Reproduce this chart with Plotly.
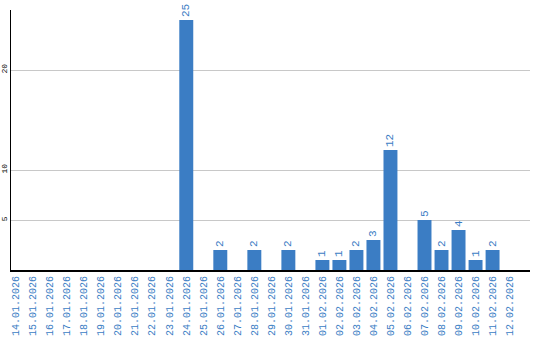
import plotly.graph_objects as go

dates = ["14.01.2026","15.01.2026","16.01.2026","17.01.2026","18.01.2026","19.01.2026",
         "20.01.2026","21.01.2026","22.01.2026","23.01.2026","24.01.2026","25.01.2026",
         "26.01.2026","27.01.2026","28.01.2026","29.01.2026","30.01.2026","31.01.2026",
         "01.02.2026","02.02.2026","03.02.2026","04.02.2026","05.02.2026","06.02.2026",
         "07.02.2026","08.02.2026","09.02.2026","10.02.2026","11.02.2026","12.02.2026"]
counts = [0,0,0,0,0,0,0,0,0,0,25,0,2,0,2,0,2,0,1,1,2,3,12,0,5,2,4,1,2,0]
y_ticks = [5, 10, 20]

blue = "#3b7dc4"
labels = [str(v) if v > 0 else "" for v in counts]

fig = go.Figure(go.Bar(
    x=dates, y=counts, text=labels, textposition="outside", textangle=-90,
    textfont=dict(family="Liberation Mono", size=11, color=blue),
    marker=dict(color=blue, line=dict(width=0)), width=0.82, cliponaxis=False,
))
fig.update_layout(
    width=540, height=340, margin=dict(l=11, r=10, t=10, b=70),
    plot_bgcolor="white", paper_bgcolor="white", showlegend=False,
    bargap=0.18,
)
fig.update_xaxes(type="category", range=[-0.3, 30.2], tickangle=-90, automargin=False,
                 tickfont=dict(family="Liberation Mono", size=10, color=blue),
                 showline=True, linecolor="black", linewidth=2, ticks="", showgrid=False)
fig.update_yaxes(range=[0, 26], tickvals=y_ticks, tickangle=-90, automargin=False,
                 tickfont=dict(family="Liberation Mono", size=8, color="black"),
                 showline=True, linecolor="black", linewidth=1, gridcolor="#c8c8c8",
                 zeroline=False, ticks="")
fig.write_html("out.html")
